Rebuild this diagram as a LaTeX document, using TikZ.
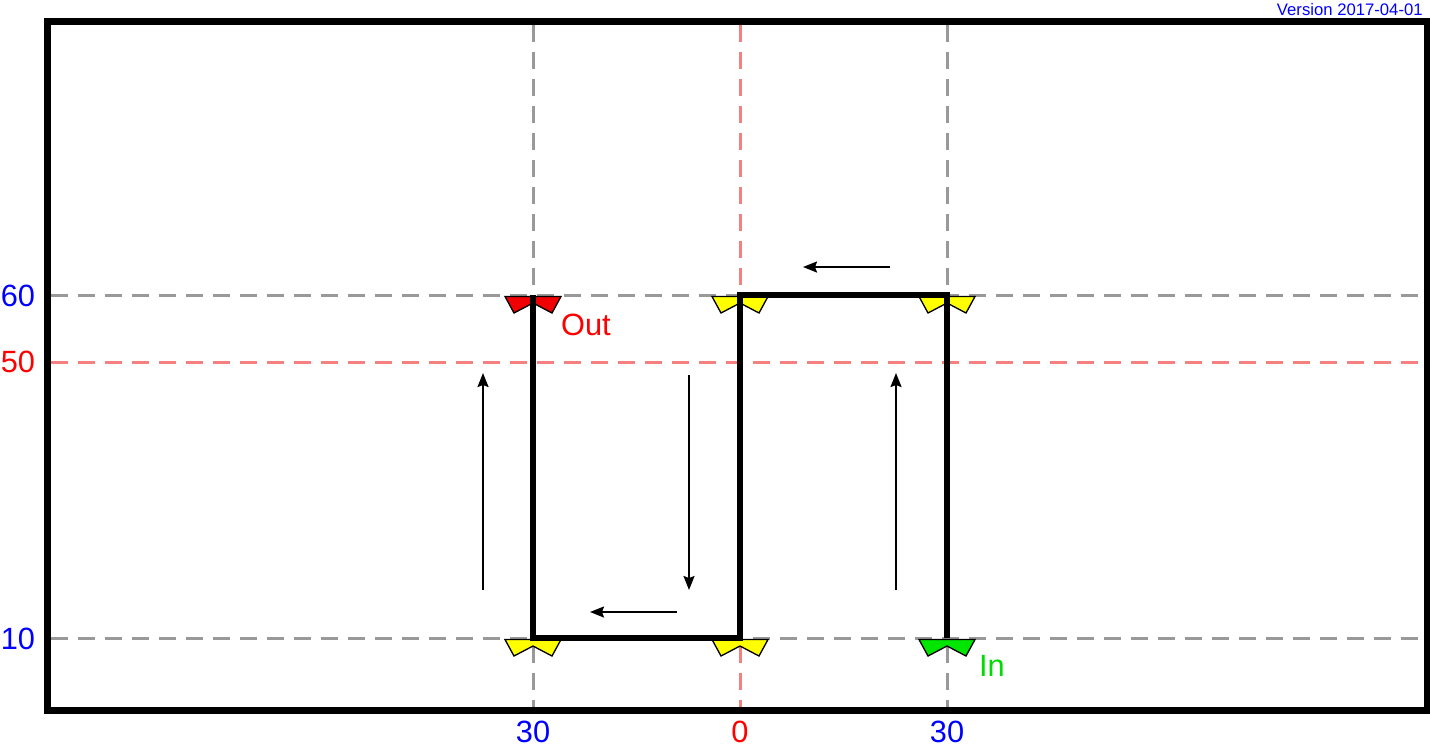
\documentclass[tikz,border=0pt]{standalone}
\usepackage{fontspec}
\setmainfont{Liberation Sans}
\usetikzlibrary{arrows.meta}
\definecolor{gridgray}{RGB}{153,153,153}
\definecolor{gridred}{RGB}{244,128,128}
\definecolor{lblblue}{RGB}{0,0,255}
\definecolor{lblred}{RGB}{255,0,0}
\definecolor{lblgreen}{RGB}{0,220,0}
\definecolor{valvegreen}{RGB}{0,230,0}
\definecolor{valveyellow}{RGB}{255,255,0}
\definecolor{valvered}{RGB}{240,0,0}

\tikzset{
  gridline/.style={line width=1.7pt, dash pattern=on 0.34cm off 0.2cm},
  pipe/.style={line width=3pt, line join=miter},
  flow/.style={line width=1.1pt, -{Stealth[length=0.28cm, width=0.22cm, inset=0.04cm]}},
  lbl/.style={inner sep=0pt, font=\fontsize{17.5}{20}\selectfont},
  valve/.style={draw=black, line width=0.75pt, line join=miter}
}
% valve symbol below a pipe end: fill colour, coordinate
\newcommand{\valve}[2]{%
  \filldraw[valve, fill=#1] ([shift={(-28,1.5)}]#2) -- ([shift={(28,1.5)}]#2)
    -- ([shift={(19,18)}]#2) -- ([shift={(0,8)}]#2) -- ([shift={(-19,18)}]#2) -- cycle;}

\begin{document}
\begin{tikzpicture}[x=0.02cm, y=-0.02cm]
	\useasboundingbox (0,0) rectangle (1430,748);

	% grid
	\draw[gridline, gridgray] (51,295) -- (1423,295);
	\draw[gridline, gridgray] (51,638) -- (1423,638);
	\draw[gridline, gridred] (51,362) -- (1423,362);
	\draw[gridline, gridgray] (533,25) -- (533,707);
	\draw[gridline, gridgray] (947,25) -- (947,707);
	\draw[gridline, gridred] (740,25) -- (740,707);

	% pipe corners
	\coordinate (in) at (947,638);
	\coordinate (c1) at (947,295);
	\coordinate (c2) at (740,295);
	\coordinate (c3) at (740,638);
	\coordinate (c4) at (533,638);
	\coordinate (out) at (533,295);

	\valve{valvegreen}{in}
	\valve{valveyellow}{c1}
	\valve{valveyellow}{c2}
	\valve{valveyellow}{c3}
	\valve{valveyellow}{c4}
	\valve{valvered}{out}

	\draw[pipe] (in) -- (c1) -- (c2) -- (c3) -- (c4) -- (out);

	% flow direction
	\draw[flow] (896,590) -- ++(0,-217);
	\draw[flow] (890,267) -- ++(-87,0);
	\draw[flow] (689,375) -- ++(0,215);
	\draw[flow] (677,612) -- ++(-87,0);
	\draw[flow] (483,590) -- ++(0,-217);

	% labels
	\node[lbl, text=lblred] (outlbl) at (586,325) {Out};
	\node[lbl, text=lblgreen] (inlbl) at (992,666) {In};
	\node[lbl, text=lblblue] (y60) at (18,296) {60};
	\node[lbl, text=lblred] (y50) at (18,362) {50};
	\node[lbl, text=lblblue] (y10) at (18,639) {10};
	\node[lbl, text=lblblue] (x30a) at (533,732) {30};
	\node[lbl, text=lblred] (x0) at (740,732) {0};
	\node[lbl, text=lblblue] (x30b) at (947,732) {30};
	\node[inner sep=0pt, anchor=east, text=lblblue, font=\fontsize{9.5}{11}\selectfont] (ver) at (1423,9.5) {Version 2017-04-01};

	% frame
	\draw[line width=0.14cm] (47.5,21.5) rectangle (1427,710);
\end{tikzpicture}
\end{document}
